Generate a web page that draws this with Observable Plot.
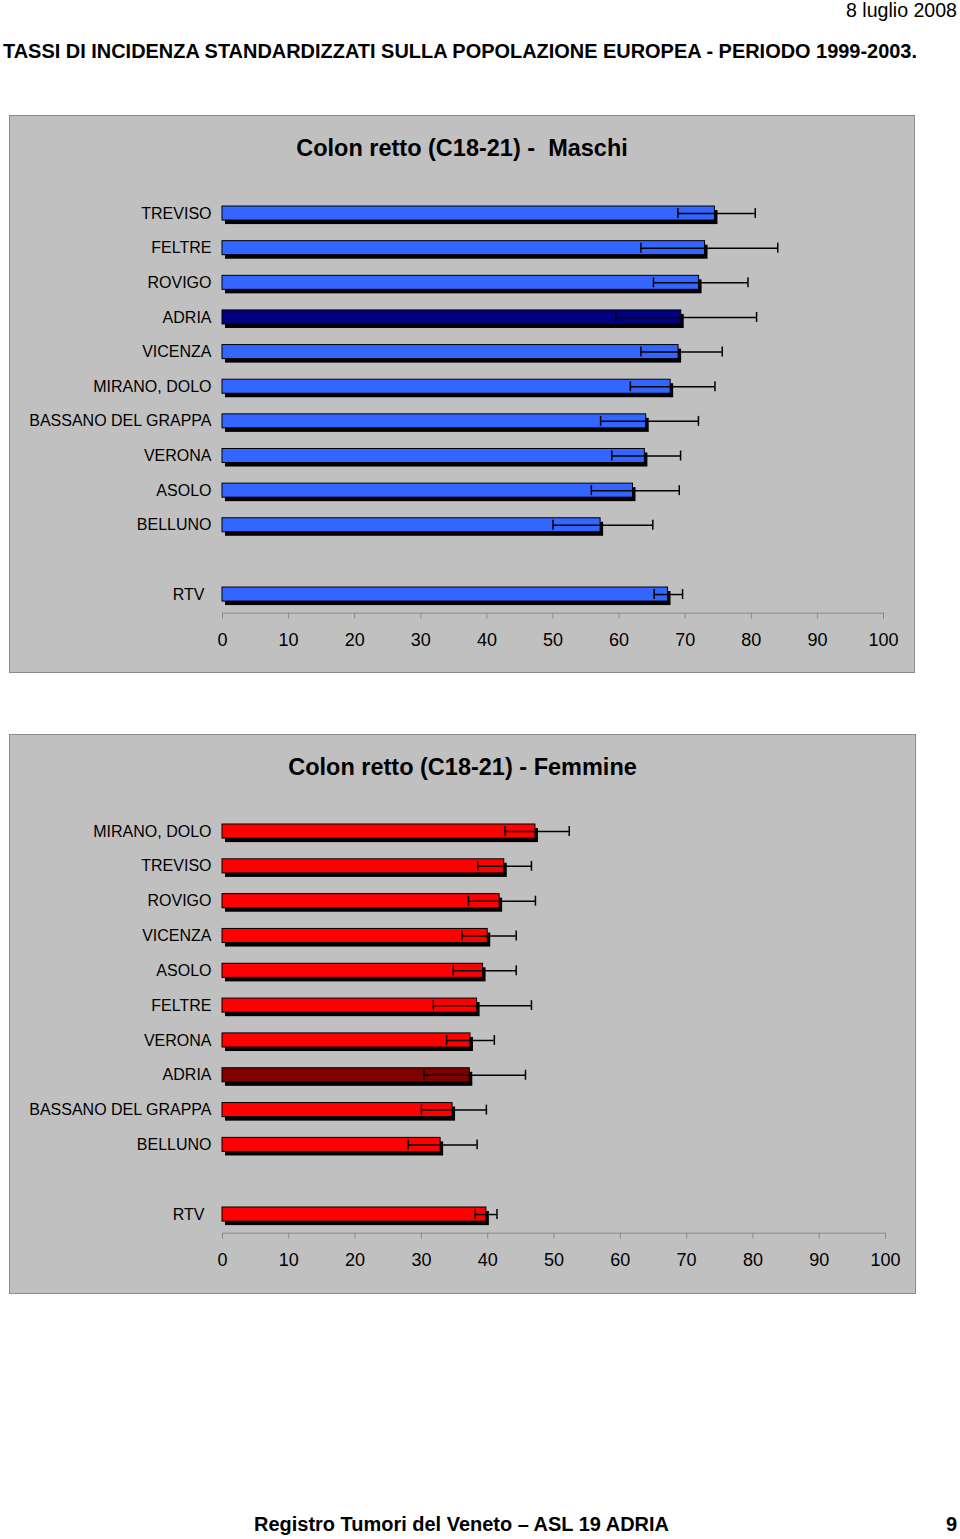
<!DOCTYPE html>
<html><head><meta charset="utf-8">
<script src="https://cdn.jsdelivr.net/npm/d3@7"></script>
<script src="https://cdn.jsdelivr.net/npm/@observablehq/plot@0.6"></script>
<style>
body{margin:0;background:#fff;font-family:"Liberation Sans",Arial,Helvetica,sans-serif;color:#000;}
#page{position:relative;width:960px;height:1539px;overflow:hidden;background:#fff;}
.abs{position:absolute;white-space:pre;transform-origin:0 0;}
.panel{position:absolute;background:#c0c0c0;border:1px solid #8c8c8c;box-sizing:border-box;}
.ptitle{position:absolute;white-space:pre;font-weight:bold;font-size:23.5px;line-height:23.5px;text-align:center;}
.chart{position:absolute;left:0;}
</style></head><body>
<div id="page">
  <div class="abs fit" data-w="111" style="left:846px;top:1px;font-size:19.5px;line-height:19.5px;">8 luglio 2008</div>
  <div class="abs fit" data-w="914" style="left:3px;top:42px;font-size:19.5px;line-height:19.5px;font-weight:bold;">TASSI DI INCIDENZA STANDARDIZZATI SULLA POPOLAZIONE EUROPEA - PERIODO 1999-2003.</div>

  <div class="panel" style="left:9px;top:115px;width:906px;height:558px;"></div>
  <div class="ptitle" style="left:9px;width:906px;top:137px;">Colon retto (C18-21) -  Maschi</div>
  <div id="male" class="chart" style="top:170px;"></div>

  <div class="panel" style="left:9px;top:734px;width:907px;height:560px;"></div>
  <div class="ptitle" style="left:9px;width:907px;top:756px;">Colon retto (C18-21) - Femmine</div>
  <div id="female" class="chart" style="top:790px;"></div>

  <div class="abs fit" data-w="415" style="left:254px;top:1514px;font-size:20px;line-height:20px;font-weight:bold;">Registro Tumori del Veneto – ASL 19 ADRIA</div>
  <div class="abs" style="left:946px;top:1514px;font-size:20px;line-height:20px;font-weight:bold;">9</div>
</div>
<script>
// ---------- DATA ----------
const maleRegions = ["TREVISO","FELTRE","ROVIGO","ADRIA","VICENZA","MIRANO, DOLO","BASSANO DEL GRAPPA","VERONA","ASOLO","BELLUNO","RTV"];
const maleRate    = [74.5, 73.0, 72.1, 69.4, 69.0, 67.8, 64.1, 63.9, 62.1, 57.2, 67.4];
const maleLow     = [68.9, 63.3, 65.2, 59.5, 63.3, 61.7, 57.2, 58.9, 55.8, 50.0, 65.3];
const maleHigh    = [80.6, 84.0, 79.5, 80.8, 75.6, 74.5, 72.0, 69.3, 69.1, 65.1, 69.6];

const femaleRegions = ["MIRANO, DOLO","TREVISO","ROVIGO","VICENZA","ASOLO","FELTRE","VERONA","ADRIA","BASSANO DEL GRAPPA","BELLUNO","RTV"];
const femaleRate    = [47.2, 42.5, 41.8, 40.0, 39.3, 38.4, 37.4, 37.3, 34.7, 32.9, 39.8];
const femaleLow     = [42.6, 38.5, 37.1, 36.1, 34.8, 31.8, 33.8, 30.4, 30.0, 28.0, 38.1];
const femaleHigh    = [52.3, 46.6, 47.2, 44.3, 44.3, 46.6, 41.0, 45.7, 39.8, 38.4, 41.4];

const xTicks = [0,10,20,30,40,50,60,70,80,90,100];
const highlighted = "ADRIA";
const totalLabel = "RTV";
const spacer = " ";

function makeChart(regions, rate, low, high, base, dark, opts) {
  const data = regions.map((r, i) => ({region: r, rate: rate[i], low: low[i], high: high[i],
    color: r === highlighted ? dark : base}));
  const others = regions.filter(r => r !== totalLabel);
  const domain = [...others, spacer, totalLabel];
  return Plot.plot({
    width: 960,
    height: opts.height,
    marginLeft: 222,
    marginRight: opts.marginRight,
    marginTop: opts.marginTop,
    marginBottom: opts.marginBottom,
    style: {background: "transparent", fontFamily: '"Liberation Sans", Arial, sans-serif', color: "#000", overflow: "visible"},
    x: {domain: [0, 100], label: null},
    y: {domain, paddingInner: 0.595, paddingOuter: opts.paddingOuter, round: false, label: null},
    color: {type: "identity"},
    marks: [
      Plot.frame({anchor: "bottom", stroke: "#8a8a8a"}),
      Plot.axisX(xTicks, {tickSize: 6, tickPadding: 14, stroke: "#8a8a8a", fill: "#000", fontSize: 18, label: null}),
      Plot.axisY(others, {tickSize: 0, tickPadding: 11, fontSize: 16, fill: "#000", label: null}),
      Plot.axisY([totalLabel], {tickSize: 0, tickPadding: 18, fontSize: 16, fill: "#000", label: null}),
      Plot.barX(data, {x: "rate", y: "region", fill: "#000", dx: 3, dy: 4}),
      Plot.barX(data, {x: "rate", y: "region", fill: "color", stroke: "#000", strokeWidth: 1}),
      Plot.ruleY(data, {x1: "low", x2: "high", y: "region", stroke: "#000", strokeWidth: 1.5}),
      Plot.tickX(data, {x: "low", y: "region", stroke: "#000", strokeWidth: 1.5, insetTop: 12, insetBottom: 12}),
      Plot.tickX(data, {x: "high", y: "region", stroke: "#000", strokeWidth: 1.5, insetTop: 12, insetBottom: 12})
    ]
  });
}

document.getElementById("male").append(
  makeChart(maleRegions, maleRate, maleLow, maleHigh, "#3366ff", "#000080",
    {height: 492, marginTop: 24.4, marginBottom: 49.3, marginRight: 77, paddingOuter: 0.336}));
document.getElementById("female").append(
  makeChart(femaleRegions, femaleRate, femaleLow, femaleHigh, "#ff0000", "#800000",
    {height: 492, marginTop: 22.4, marginBottom: 49.3, marginRight: 75, paddingOuter: 0.333}));

document.querySelectorAll(".fit").forEach(el => {
  const w = el.getBoundingClientRect().width;
  const target = +el.dataset.w;
  if (w > 0) el.style.transform = `scaleX(${target / w})`;
});
</script>
</body></html>
